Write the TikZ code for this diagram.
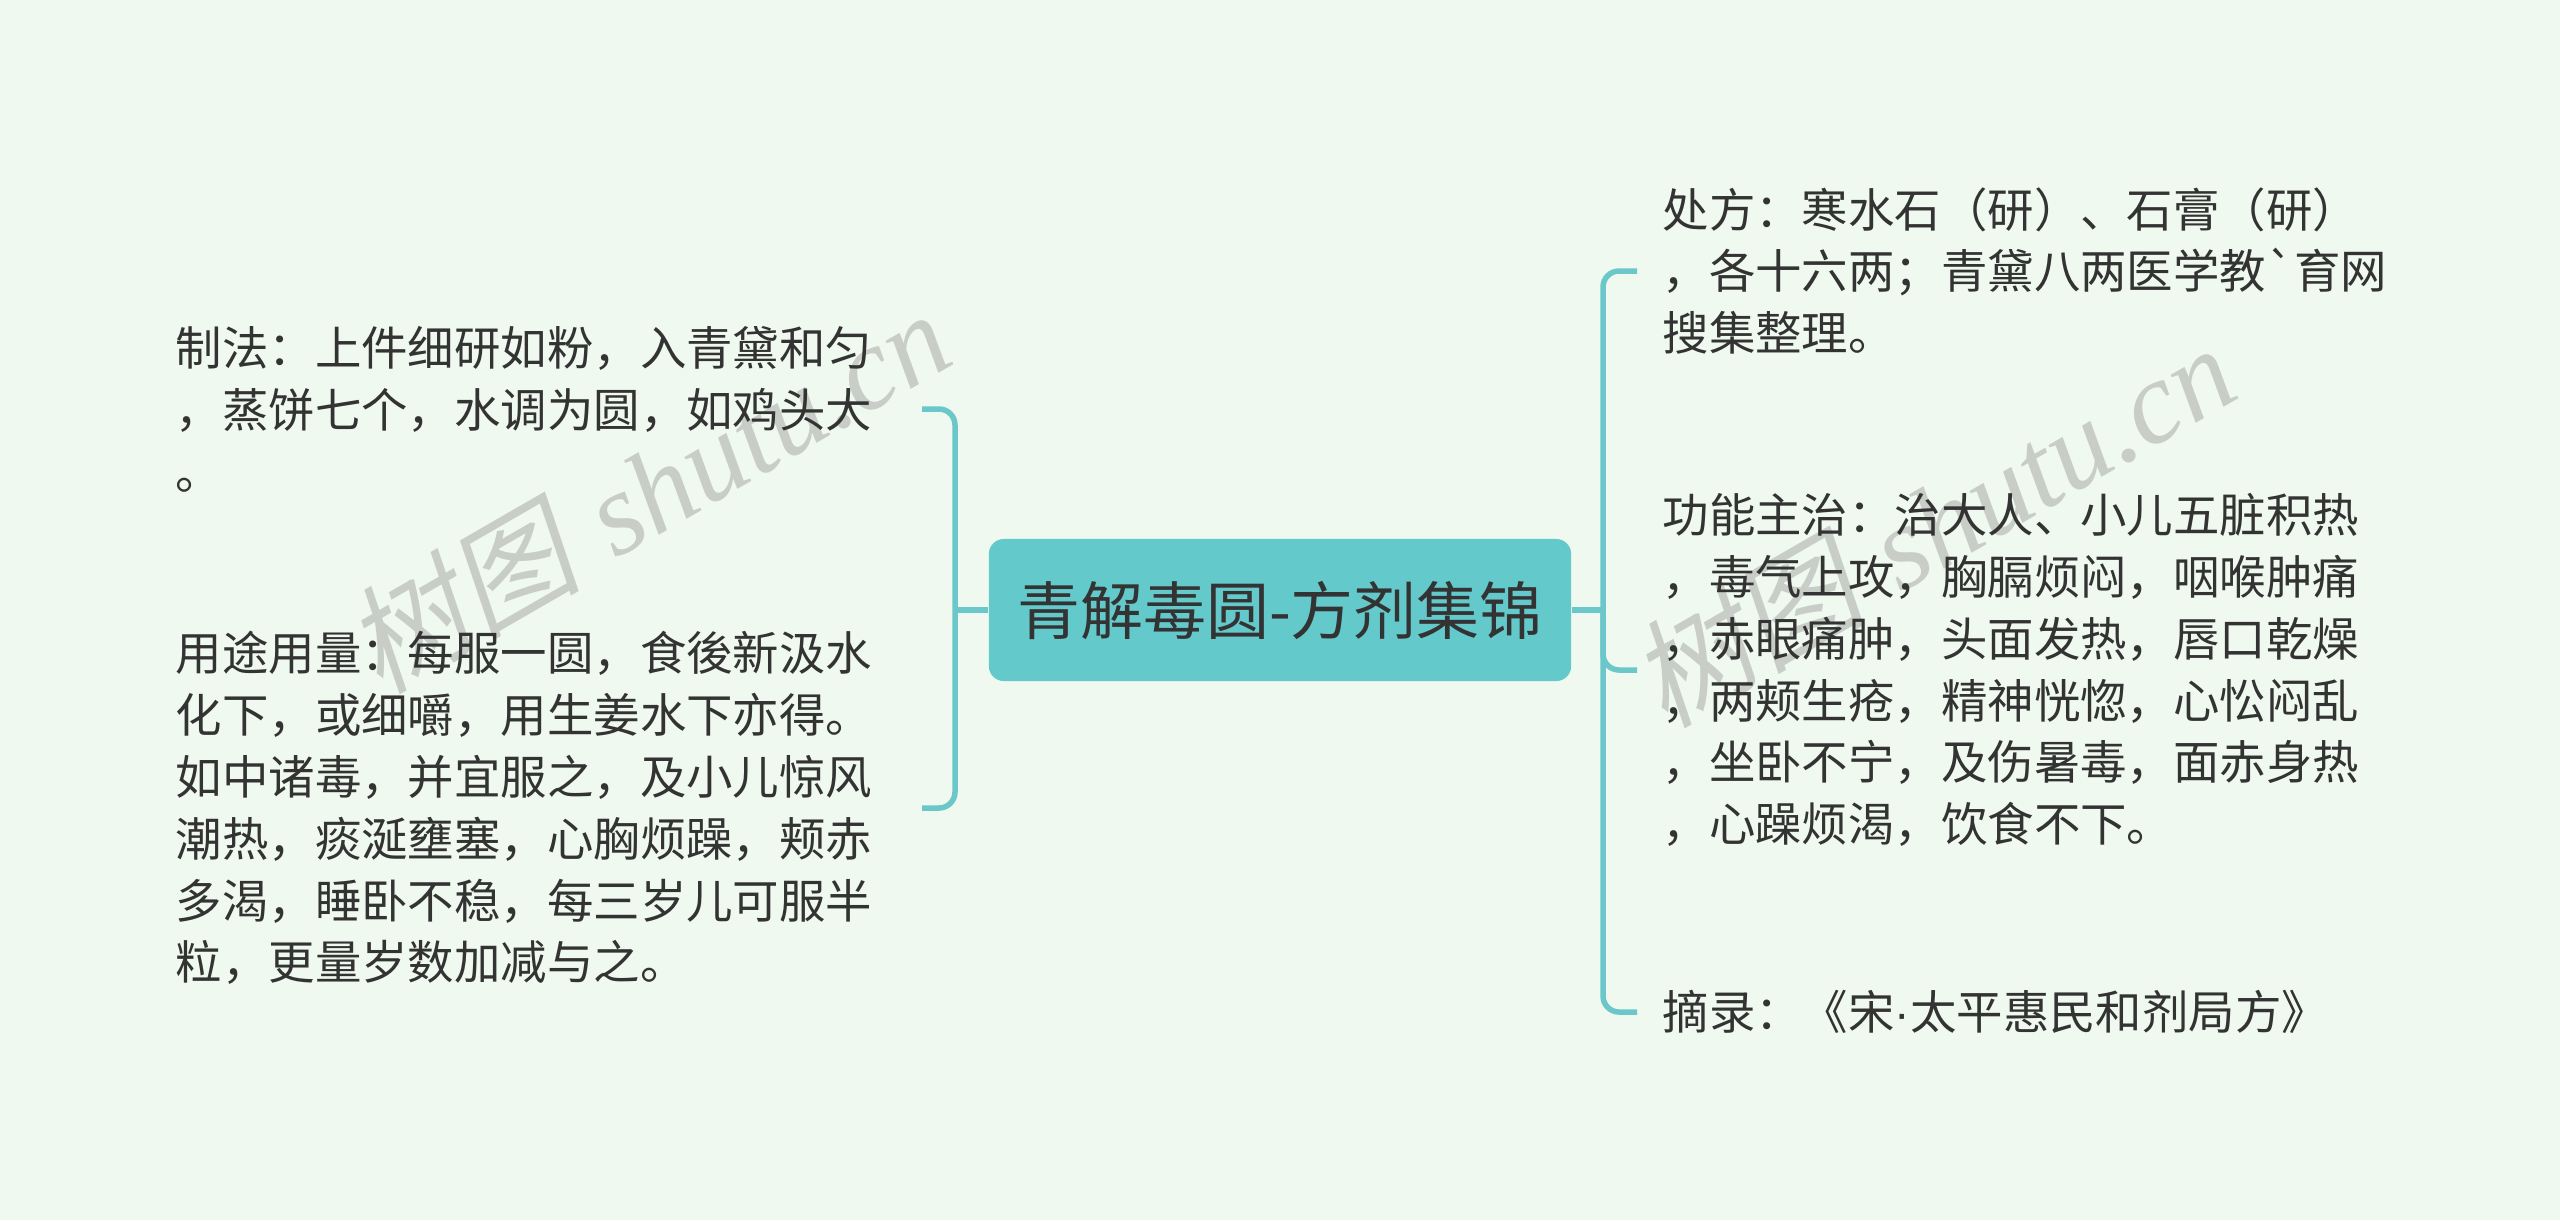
\documentclass[tikz,border=0pt]{standalone}
\usepackage{fontspec}
\newfontfamily\cjk{Noto Sans CJK SC}
\newfontfamily\wmcjk[FakeSlant=0.2]{Noto Sans CJK SC}
\newfontfamily\wmlatin{Liberation Serif}
\newfontfamily\latinsans{Liberation Sans}
\definecolor{bgmint}{HTML}{EFF9EF}
\definecolor{hubteal}{HTML}{63C9CB}
\definecolor{linkteal}{HTML}{6CC7CA}
\definecolor{inkgray}{HTML}{333333}
\definecolor{wmgray}{HTML}{C8CDC8}
\begin{document}
\begin{tikzpicture}[
    x=0.01cm, y=-0.01cm,
    font=\cjk,
    % Core styles: centre topic, leaf texts, bracket links, watermark
    hub/.style={fill=hubteal, rounded corners=0.15cm, minimum width=5.82cm, minimum height=1.42cm, inner sep=0pt, text=inkgray, font=\cjk\fontsize{17.9}{20}\selectfont},
    leaf/.style={text=inkgray, font=\cjk\fontsize{13.2}{17.6}\selectfont, align=left, text width=7.2cm, inner xsep=0.25cm, inner ysep=0.1cm},
    link/.style={draw=linkteal, line width=0.055cm, rounded corners=0.16cm},
    wmark/.style={text=wmgray, rotate=30, font=\fontsize{33.5}{36}\selectfont}
  ]

  % Bounding box locked to the 2560 x 1220 frame
  \useasboundingbox (0,0) rectangle (2560,1220);
  \fill[bgmint] (0,0) rectangle (2560,1220);

  % ---------------------------------------------------------
  % WATERMARKS (beneath everything)
  % ---------------------------------------------------------
  \node[wmark] (wmleft) at (647,490) {{\wmcjk 树图} {\wmlatin\itshape shutu.cn}};
  \node[wmark] (wmright) at (1932,524) {{\wmcjk 树图} {\wmlatin\itshape shutu.cn}};

  % ---------------------------------------------------------
  % CENTRE TOPIC
  % ---------------------------------------------------------
  \node[hub] (hub) at (1280,610) {青解毒圆-方剂集锦};
  \coordinate (lhub) at (955,610);
  \coordinate (rhub) at (1603,610);

  % ---------------------------------------------------------
  % LEFT BRANCH
  % ---------------------------------------------------------
  \node[leaf, anchor=east] (zhifa) at (922,409) {制法：上件细研如粉，入青黛和匀\\，蒸饼七个，水调为圆，如鸡头大\\。};
  \node[leaf, anchor=east] (yongtu) at (922,808) {用途用量：每服一圆，食後新汲水\\化下，或细嚼，用生姜水下亦得。\\如中诸毒，并宜服之，及小儿惊风\\潮热，痰涎壅塞，心胸烦躁，颊赤\\多渴，睡卧不稳，每三岁儿可服半\\粒，更量岁数加减与之。};

  \draw[link] (hub.west) -- (lhub);
  \draw[link] (zhifa.east) -| (lhub);
  \draw[link] (yongtu.east) -| (lhub);

  % ---------------------------------------------------------
  % RIGHT BRANCH
  % ---------------------------------------------------------
  \node[leaf, anchor=west] (chufang) at (1637,271) {处方：寒水石（研）、石膏（研）\\，各十六两；青黛八两医学教`育网\\搜集整理。};
  \node[leaf, anchor=west] (gongneng) at (1637,670) {功能主治：治大人、小儿五脏积热\\，毒气上攻，胸膈烦闷，咽喉肿痛\\，赤眼痛肿，头面发热，唇口乾燥\\，两颊生疮，精神恍惚，心忪闷乱\\，坐卧不宁，及伤暑毒，面赤身热\\，心躁烦渴，饮食不下。};
  \node[leaf, anchor=west] (zhailu) at (1637,1012) {摘录：《宋{\latinsans ·}太平惠民和剂局方》};

  \draw[link] (hub.east) -- (rhub);
  \draw[link] (chufang.west) -| (rhub);
  \draw[link] (gongneng.west) -| (rhub);
  \draw[link] (zhailu.west) -| (rhub);

\end{tikzpicture}
\end{document}
